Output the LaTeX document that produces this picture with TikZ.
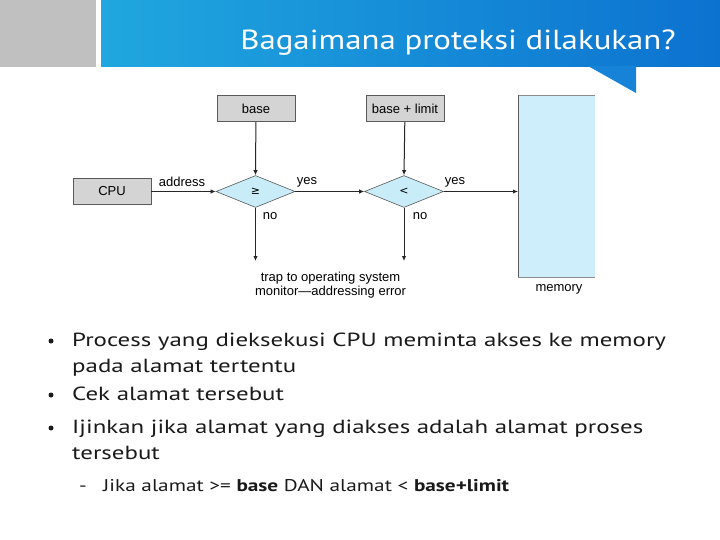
\documentclass[tikz,border=0pt]{standalone}
\usepackage{fontspec}
\setmainfont{PT Sans}
\newfontfamily\diagfont{Liberation Sans}
\newfontfamily\symfont{DejaVu Sans}
\newfontfamily\bodyfont[FakeStretch=1.31]{PT Sans}
\newfontfamily\titlefont[FakeStretch=1.19]{PT Sans}
\newfontfamily\subfont[FakeStretch=1.25]{PT Sans}
\usetikzlibrary{shapes.geometric,arrows.meta}
\definecolor{boxgray}{HTML}{D4D4D4}
\definecolor{boxedge}{HTML}{5A5A5A}
\definecolor{diamfill}{HTML}{C8ECF8}
\definecolor{memfill}{HTML}{CDEEFA}
\definecolor{bannerL}{HTML}{20A7DF}
\definecolor{bannerR}{HTML}{0C72D0}
\definecolor{pointer}{HTML}{1683D8}
\definecolor{leftgray}{HTML}{C0C0C0}
\definecolor{txt}{HTML}{1A1A1A}
\tikzset{
  regbox/.style={draw=boxedge, fill=boxgray, line width=0.8pt, minimum width=78pt, minimum height=26.5pt, inner sep=0pt, font=\diagfont\fontsize{13}{15}\selectfont},
  cmp/.style={diamond, draw=boxedge, fill=diamfill, line width=0.6pt, minimum width=79pt, minimum height=32pt, aspect=2.5, inner sep=0pt, font=\symfont\fontsize{11}{13}\selectfont},
  conn/.style={-{Latex[length=5pt,width=4.5pt]}, line width=1pt, draw=black!85},
  lbl/.style={font=\diagfont\fontsize{13}{15}\selectfont, inner sep=0pt},
  bul/.style={font=\bodyfont\fontsize{19}{24}\selectfont, text=txt, anchor=base west, inner sep=0pt},
  dot/.style={circle, fill=txt, minimum size=5pt, inner sep=0pt}
}
\begin{document}
\begin{tikzpicture}[x=1pt,y=-1pt]
\useasboundingbox (0,0) rectangle (720,540);
\fill[white] (0,0) rectangle (720,540);
% header
\fill[leftgray] (0,0) rectangle (96,67);
\shade[left color=bannerL, right color=bannerR] (101,0) rectangle (720,67);
\fill[pointer] (588,66) -- (636,93) -- (636,66) -- cycle;
\node[anchor=base east, text=white, font=\titlefont\fontsize{27.6}{32}\selectfont, inner sep=0pt] (title) at (676,49.5) {Bagaimana proteksi dilakukan?};
% diagram
\node[regbox] (base) at (256,108.5) {base};
\node[regbox] (bl) at (405,108.5) {base + limit};
\node[regbox] (cpu) at (112,191.5) {CPU};
\node[cmp] (d1) at (255.5,191.5) {≥};
\node[cmp] (d2) at (404,191.5) {<};
\fill[memfill] (518,95) rectangle (595,277);
\draw[boxedge!70, line width=0.8pt] (595,95) -- (518,95) -- (518,277) -- (595,277);
\draw[boxedge, line width=1pt] (518,95) -- (518,277);
\coordinate (mem) at (518,191.5);
\node[lbl] (memlbl) at (559,289) {memory};
\coordinate (t1) at (255.5,261);
\coordinate (t2) at (404,261);
\draw[conn] (cpu) -- (d1.west);
\draw[conn] (d1.east) -- (d2.west);
\draw[conn] (d2.east) -- (mem);
\draw[conn] (base) -- (d1.north);
\draw[conn] (bl) -- (d2.north);
\draw[conn] (d1.south) -- (t1);
\draw[conn] (d2.south) -- (t2);
\node[lbl] (addr) at (182,182) {address};
\node[lbl] (y1) at (307,182) {yes};
\node[lbl] (y2) at (455,182) {yes};
\node[lbl] (n1) at (270,216) {no};
\node[lbl] (n2) at (420,216) {no};
\node[lbl, align=center, font=\diagfont\fontsize{13}{13.5}\selectfont] (trap) at (330.5,285) {trap to operating system\\monitor—addressing error};
% bullets
\node[dot] (d1b) at (51,341) {};
\node[dot] (d2b) at (51,395) {};
\node[dot] (d3b) at (51,428) {};
\node[bul] (b1a) at (72,346) {Process yang dieksekusi CPU meminta akses ke memory};
\node[bul] (b1b) at (72,372) {pada alamat tertentu};
\node[bul] (b2) at (72,400) {Cek alamat tersebut};
\node[bul] (b3a) at (72,433) {Ijinkan jika alamat yang diakses adalah alamat proses};
\node[bul] (b3b) at (72,459) {tersebut};
\node[font=\subfont\fontsize{17}{20}\selectfont, text=txt, anchor=base west, inner sep=0pt] (dash) at (79,491) {-};
\node[font=\subfont\fontsize{17}{20}\selectfont, text=txt, anchor=base west, inner sep=0pt] (b4) at (103,491) {Jika alamat >= \textbf{base} DAN alamat < \textbf{base+limit}};
\end{tikzpicture}
\end{document}
